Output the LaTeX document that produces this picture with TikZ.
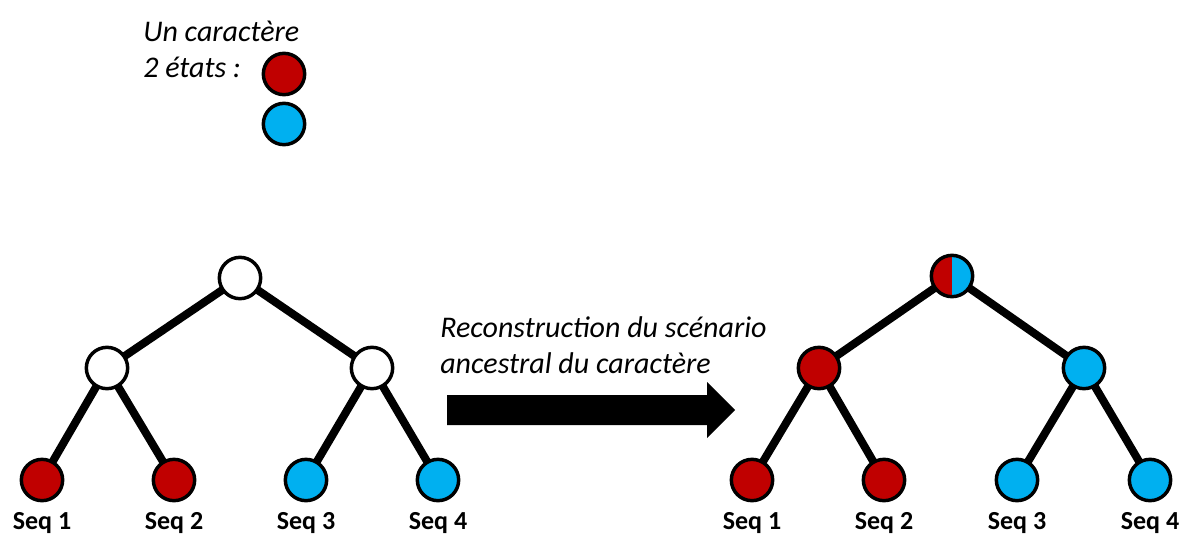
\documentclass[tikz,border=0pt]{standalone}
\usepackage{fontspec}
\setmainfont{Carlito}
\usetikzlibrary{backgrounds}

\definecolor{etatrouge}{HTML}{C00000}
\definecolor{etatbleu}{HTML}{00B0F0}

\tikzset{
    etat/.style={shape=circle,draw=black,line width=2.6pt,minimum size=31pt,inner sep=0pt},
    rouge/.style={etat,fill=etatrouge},
    bleu/.style={etat,fill=etatbleu},
    vide/.style={etat,fill=white},
    ambigu/.style={etat,path picture={
        \fill[etatrouge] (path picture bounding box.south west) rectangle (path picture bounding box.north);
        \fill[etatbleu] (path picture bounding box.south) rectangle (path picture bounding box.north east);}},
    branche/.style={line width=6pt},
    seq/.style={font=\fontsize{19.5}{23}\selectfont\bfseries},
    texte/.style={font=\fontsize{22.5}{27}\selectfont\itshape,align=left,inner sep=0pt}
}

\begin{document}
\begin{tikzpicture}[x=0.75pt,y=-0.75pt]
    \useasboundingbox (0,0) rectangle (1185,536);

    % legende
    \node[texte,anchor=base west] (Legende) at (143,77) {Un caractère\\2 états :};
    \node[rouge] (EtatRouge) at (284,74) {};
    \node[bleu] (EtatBleu) at (284,124) {};

    % arbre de depart
    \node[vide] (Racine) at (240,278) {};
    \node[vide] (NoeudA) at (107,368) {};
    \node[vide] (NoeudB) at (372,368) {};
    \node[rouge] (Feuille1) at (42,480) {};
    \node[rouge] (Feuille2) at (174,480) {};
    \node[bleu] (Feuille3) at (306,480) {};
    \node[bleu] (Feuille4) at (438,480) {};

    % arbre reconstruit
    \node[ambigu] (RacineR) at (952,276) {};
    \node[rouge] (NoeudAR) at (819,368) {};
    \node[bleu] (NoeudBR) at (1084,368) {};
    \node[rouge] (Feuille1R) at (752,480) {};
    \node[rouge] (Feuille2R) at (884,480) {};
    \node[bleu] (Feuille3R) at (1017,480) {};
    \node[bleu] (Feuille4R) at (1150,480) {};

    \begin{scope}[on background layer]
        \path [branche] (Racine.center) edge (NoeudA.center) edge (NoeudB.center);
        \path [branche] (NoeudA.center) edge (Feuille1.center) edge (Feuille2.center);
        \path [branche] (NoeudB.center) edge (Feuille3.center) edge (Feuille4.center);
        \path [branche] (RacineR.center) edge (NoeudAR.center) edge (NoeudBR.center);
        \path [branche] (NoeudAR.center) edge (Feuille1R.center) edge (Feuille2R.center);
        \path [branche] (NoeudBR.center) edge (Feuille3R.center) edge (Feuille4R.center);
    \end{scope}

    % noms des sequences
    \foreach \i in {1,...,4} {
        \node[seq] (Nom\i) at ([yshift=-43pt*0.75]Feuille\i.center) {Seq \i};
        \node[seq] (NomR\i) at ([yshift=-43pt*0.75]Feuille\i R.center) {Seq \i};
    }

    % fleche
    \fill (447,395) -- (707,395) -- (707,382) -- (735,410) -- (707,438) -- (707,425) -- (447,425) -- cycle;
    \node[texte,anchor=base west] (Reconstruction) at (440,373) {Reconstruction du scénario\\ancestral du caractère};
\end{tikzpicture}
\end{document}
